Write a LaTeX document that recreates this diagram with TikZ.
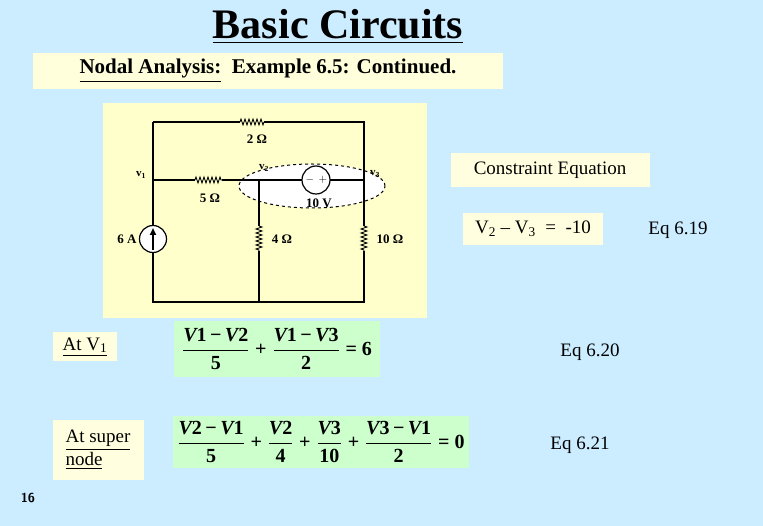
\documentclass[tikz,border=0pt]{standalone}
\usepackage{fontspec}
\usepackage{amsmath}
\setmainfont{Liberation Serif}
\usetikzlibrary{decorations.pathmorphing,arrows.meta}
\definecolor{bg}{HTML}{CCECFF}
\definecolor{ylw}{HTML}{FFFFCC}
\definecolor{grn}{HTML}{CCFFCC}
\newcommand{\VV}[1]{\mbox{\bfseries\itshape V}\mbox{\bfseries #1}}
\newcommand{\bn}[1]{\mbox{\bfseries #1}}
\begin{document}
\begin{tikzpicture}[x=1pt,y=-1pt,
  lbl/.style={font=\bfseries\fontsize{13}{15}\selectfont,inner sep=0pt},
  wire/.style={line width=1.3pt},
  res/.style={decorate,decoration={zigzag,segment length=4pt,amplitude=3pt},line width=0.8pt},
  box/.style={fill=ylw,inner sep=3pt,font=\bfseries\fontsize{21}{24}\selectfont},
  tbox/.style={fill=ylw!60!white,inner sep=3pt,font=\fontsize{19}{23}\selectfont},
  plain/.style={font=\fontsize{19}{23}\selectfont},
  eqbox/.style={fill=grn,inner sep=4pt,font=\bfseries\fontsize{20}{24}\selectfont}]
\fill[bg] (0,0) rectangle (763,526);
\node (title) at (338,27) {\bfseries\fontsize{42}{46}\selectfont\underline{Basic Circuits}};
\node[box,fill=ylw!70!white,minimum height=36pt,minimum width=470pt] (sub) at (268,71) {\underline{Nodal Analysis:}\ \ Example 6.5: Continued.};
% circuit panel
\fill[ylw] (103,103) rectangle (427,318);
\filldraw[fill=white,draw=black,dashed,line width=1pt] (312,186) ellipse (73pt and 22pt);
\coordinate (tl) at (153,122); \coordinate (tr) at (364,122);
\coordinate (ml) at (153,180); \coordinate (mm) at (259,180); \coordinate (mr) at (364,180);
\coordinate (bl) at (153,302); \coordinate (bm) at (259,302); \coordinate (br) at (364,302);
\draw[wire] (tl) -- (240,122); \draw[res] (240,122) -- (264,122); \draw[wire] (264,122) -- (tr) -- (mr);
\draw[wire] (ml) -- (195,180); \draw[res] (195,180) -- (222,180); \draw[wire] (222,180) -- (mm) -- (302,180);
\draw[wire] (330,180) -- (mr);
\draw[wire] (tl) -- (153,226); \draw[wire] (153,252) -- (bl) -- (br) -- (364,251);
\draw[wire] (mm) -- (259,226); \draw[res] (259,226) -- (259,251); \draw[wire] (259,251) -- (bm);
\draw[wire] (mr) -- (364,226); \draw[res] (364,226) -- (364,251);
\node[circle,draw,line width=1.2pt,fill=white,minimum size=28pt,inner sep=0pt] (vs) at (316,180) {};
\node[inner sep=0pt,font=\fontsize{11}{11}\selectfont] at (310,180) {$-$};
\node[inner sep=0pt,font=\fontsize{11}{11}\selectfont] at (323,180) {$+$};
\node[circle,draw,line width=1.2pt,fill=white,minimum size=27pt,inner sep=0pt] (cs) at (153,239) {};
\draw[-{Triangle[length=7pt,width=6pt]},line width=2pt] (153,250) -- (153,228);
\node[lbl] at (257,139) {2 Ω};
\node[lbl] at (141,175) {\fontsize{11}{11}\selectfont v\textsubscript{1}};
\node[lbl] at (210,198) {5 Ω};
\node[lbl] at (264,168) {\fontsize{11}{11}\selectfont v\textsubscript{2}};
\node[lbl] at (375,174) {\fontsize{11}{11}\selectfont v\textsubscript{3}};
\node[lbl] at (319,203) {10 V};
\node[lbl] at (127,239) {6 A};
\node[lbl] at (282,239) {4 Ω};
\node[lbl] at (390,239) {10 Ω};
% right side
\node[tbox,minimum width=199pt,minimum height=34pt] (ce) at (550,170) {Constraint Equation};
\node[tbox,minimum width=140pt,minimum height=32pt] (c1) at (533,229) {V\textsubscript{2} – V\textsubscript{3}\ \ =\ \ -10};
\node[plain] (e19) at (678,230) {Eq 6.19};
\node[tbox,minimum width=64pt,minimum height=29pt] (a1) at (85,347) {\underline{At V\textsubscript{1}}};
\node[eqbox,minimum width=206pt,minimum height=56pt] (eq1) at (277,349) {$\dfrac{\VV1\,\bn{−}\,\VV2}{\bn{5}}\;\bn{+}\;\dfrac{\VV1\,\bn{−}\,\VV3}{\bn{2}}\;\bn{= 6}$};
\node[plain] (e20) at (590,352) {Eq 6.20};
\node[tbox,minimum width=91pt,minimum height=60pt,align=left] (a2) at (98,450) {\underline{At super}\\\underline{node}};
\node[eqbox,minimum width=288pt,minimum height=52pt] (eq2) at (321,442) {$\dfrac{\VV2\,\bn{−}\,\VV1}{\bn{5}}\;\bn{+}\;\dfrac{\VV2}{\bn{4}}\;\bn{+}\;\dfrac{\VV3}{\bn{10}}\;\bn{+}\;\dfrac{\VV3\,\bn{−}\,\VV1}{\bn{2}}\;\bn{= 0}$};
\node[plain] (e21) at (580,445) {Eq 6.21};
\node[font=\sffamily\bfseries\fontsize{13}{15}\selectfont] (pg) at (28,498) {16};
\end{tikzpicture}
\end{document}
